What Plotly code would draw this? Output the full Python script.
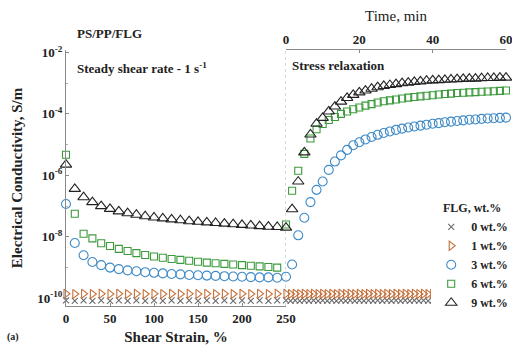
import plotly.graph_objects as go

# ---------------- data (log10 of conductivity, S/m) ----------------
strain = [0, 10, 20, 30, 40, 50, 60, 70, 80, 90, 100, 110, 120, 130, 140, 150,
          160, 170, 180, 190, 200, 210, 220, 230, 240]
time_min = [0, 1.667, 3.333, 5, 6.667, 8.333, 10, 11.667, 13.333, 15, 16.667, 18.333,
            20, 21.667, 23.333, 25, 26.667, 28.333, 30, 31.667, 33.333, 35, 36.667,
            38.333, 40, 41.667, 43.333, 45, 46.667, 48.333, 50, 51.667, 53.333, 55,
            56.667, 58.333, 60]
time_low = [0, 1.25, 2.5, 3.75, 5, 6.25, 7.5, 8.75, 10, 11.25, 12.5, 13.75, 15, 16.25,
            17.5, 18.75, 20, 21.25, 22.5, 23.75, 25, 26.25, 27.5, 28.75, 30, 31.25,
            32.5, 33.75, 35, 36.25, 37.5, 38.75, 40, 41.25, 42.5, 43.75, 45, 46.25,
            47.5, 48.75, 50, 51.25, 52.5, 53.75, 55, 56.25, 57.5, 58.75, 60]

shear_0 = [-10.07, -10.08, -10.07, -10.08, -10.07, -10.08, -10.07, -10.08, -10.07, -10.08,
           -10.07, -10.08, -10.07, -10.08, -10.07, -10.08, -10.07, -10.08, -10.07, -10.08,
           -10.07, -10.08, -10.07, -10.08, -10.07]
shear_1 = [-9.85, -9.86, -9.85, -9.86, -9.85, -9.86, -9.85, -9.86, -9.85, -9.86,
           -9.85, -9.86, -9.85, -9.86, -9.85, -9.86, -9.85, -9.86, -9.85, -9.86,
           -9.85, -9.86, -9.85, -9.86, -9.85]
shear_3 = [-6.93, -8.20, -8.60, -8.82, -8.92, -9.00, -9.05, -9.09, -9.12, -9.15, -9.17,
           -9.19, -9.21, -9.22, -9.24, -9.25, -9.26, -9.27, -9.28, -9.29, -9.30, -9.31,
           -9.32, -9.32, -9.33]
shear_6 = [-5.33, -7.25, -7.90, -8.05, -8.21, -8.30, -8.39, -8.46, -8.53, -8.59, -8.64,
           -8.68, -8.72, -8.75, -8.78, -8.81, -8.84, -8.86, -8.88, -8.90, -8.92, -8.94,
           -8.96, -8.98, -9.00]
shear_9 = [-5.65, -6.44, -6.71, -6.87, -7.00, -7.09, -7.17, -7.23, -7.28, -7.33, -7.37,
           -7.40, -7.43, -7.46, -7.49, -7.51, -7.53, -7.55, -7.57, -7.59, -7.61, -7.63,
           -7.65, -7.67, -7.68]

relax_0 = [-10.07, -10.08, -10.07, -10.08, -10.07, -10.08, -10.07, -10.08, -10.07, -10.08,
           -10.07, -10.08, -10.07, -10.08, -10.07, -10.08, -10.07, -10.08, -10.07, -10.08,
           -10.07, -10.08, -10.07, -10.08, -10.07, -10.08, -10.07, -10.08, -10.07, -10.08,
           -10.07, -10.08, -10.07, -10.08, -10.07, -10.08, -10.07, -10.08, -10.07, -10.08,
           -10.07, -10.08, -10.07, -10.08, -10.07, -10.08, -10.07, -10.08, -10.07]
relax_1 = [-9.85, -9.86, -9.85, -9.86, -9.85, -9.86, -9.85, -9.86, -9.85, -9.86,
           -9.85, -9.86, -9.85, -9.86, -9.85, -9.86, -9.85, -9.86, -9.85, -9.86,
           -9.85, -9.86, -9.85, -9.86, -9.85, -9.86, -9.85, -9.86, -9.85, -9.86,
           -9.85, -9.86, -9.85, -9.86, -9.85, -9.86, -9.85, -9.86, -9.85, -9.86,
           -9.85, -9.86, -9.85, -9.86, -9.85, -9.86, -9.85, -9.86, -9.85]
relax_3 = [-9.30, -8.90, -7.95, -7.38, -6.87, -6.47, -6.20, -5.82, -5.55, -5.35, -5.17,
           -5.02, -4.92, -4.83, -4.75, -4.68, -4.62, -4.57, -4.52, -4.48, -4.44, -4.41,
           -4.38, -4.35, -4.32, -4.30, -4.27, -4.25, -4.23, -4.21, -4.19, -4.18, -4.16,
           -4.15, -4.14, -4.13, -4.12]
relax_6 = [-7.60, -6.50, -5.85, -5.30, -4.80, -4.50, -4.33, -4.20, -4.10, -4.00, -3.92,
           -3.85, -3.79, -3.73, -3.68, -3.63, -3.59, -3.56, -3.53, -3.50, -3.47, -3.45,
           -3.43, -3.41, -3.39, -3.37, -3.35, -3.34, -3.32, -3.31, -3.30, -3.29, -3.28,
           -3.27, -3.26, -3.25, -3.24]
relax_9 = [-7.70, -7.10, -6.20, -5.25, -4.67, -4.32, -4.13, -3.92, -3.76, -3.60, -3.48,
           -3.38, -3.30, -3.24, -3.18, -3.13, -3.09, -3.06, -3.03, -3.00, -2.98, -2.96,
           -2.94, -2.92, -2.91, -2.90, -2.89, -2.88, -2.87, -2.86, -2.85, -2.85, -2.84,
           -2.83, -2.83, -2.82, -2.82]

labels = ["0 wt.%", "1 wt.%", "3 wt.%", "6 wt.%", "9 wt.%"]
y_tickvals = [1e-10, 1e-8, 1e-6, 1e-4, 1e-2]
y_ticktext = ["10<sup>-10</sup>", "10<sup>-8</sup>", "10<sup>-6</sup>",
              "10<sup>-4</sup>", "10<sup>-2</sup>"]
strain_ticks = [0, 50, 100, 150, 200, 250]
time_ticks = [0, 20, 40, 60]

# ---------------- styles ----------------
FONT = "Liberation Serif"
styles = [
    dict(symbol="x-thin-open", size=6, color="#6b6b6b"),
    dict(symbol="triangle-right-open", size=8, color="#c4703a"),
    dict(symbol="circle-open", size=9, color="#3f8ac6"),
    dict(symbol="square-open", size=7, color="#3c9a3c"),
    dict(symbol="triangle-up-open", size=10, color="#222222"),
]

shear_sets = [shear_0, shear_1, shear_3, shear_6, shear_9]
relax_sets = [(time_low, relax_0), (time_low, relax_1), (time_min, relax_3),
              (time_min, relax_6), (time_min, relax_9)]

fig = go.Figure()
for i, lab in enumerate(labels):
    st = styles[i]
    mk = dict(symbol=st["symbol"], size=st["size"], color=st["color"],
              line=dict(color=st["color"], width=1.1))
    fig.add_trace(go.Scatter(x=strain, y=[10 ** v for v in shear_sets[i]], mode="markers",
                             marker=mk, name=lab, legendgroup=lab, showlegend=True,
                             cliponaxis=False, xaxis="x", yaxis="y"))
    tx, ty = relax_sets[i]
    fig.add_trace(go.Scatter(x=tx, y=[10 ** v for v in ty], mode="markers",
                             marker=mk, name=lab, legendgroup=lab, showlegend=False,
                             cliponaxis=False, xaxis="x2", yaxis="y"))

tickf = dict(family=FONT, size=13, color="#222", weight="bold")
axcol = "#8a8a8a"

fig.update_layout(
    width=512, height=345,
    margin=dict(l=66, r=6, t=50, b=39, autoexpand=False),
    paper_bgcolor="white", plot_bgcolor="white",
    font=dict(family=FONT, size=13, color="#222", weight="bold"),
    xaxis=dict(domain=[0, 0.5], range=[0, 250], tickmode="array", tickvals=strain_ticks,
               ticks="inside", ticklen=3, tickcolor=axcol, showline=True, linecolor=axcol,
               showgrid=False, zeroline=False, tickfont=tickf, anchor="y", automargin=False,
               ticklabeloverflow="allow",
               title=dict(text="Shear Strain, %", font=dict(family=FONT, size=15, weight="bold"),
                          standoff=8)),
    xaxis2=dict(domain=[0.5, 1], range=[0, 60], tickmode="array", tickvals=time_ticks,
                side="top", anchor="y", ticks="inside", ticklen=3, tickcolor=axcol,
                showline=True, linecolor=axcol, showgrid=False, zeroline=False,
                automargin=False, ticklabeloverflow="allow",
                tickfont=dict(family=FONT, size=13, color="#222"),
                title=dict(text="Time, min", font=dict(family=FONT, size=15, weight="normal"),
                           standoff=6)),
    xaxis3=dict(domain=[0.5, 1], range=[0, 60], tickmode="array", tickvals=[20, 40, 60],
                ticktext=["", "", ""], anchor="y", ticks="inside", ticklen=3, tickcolor=axcol,
                showline=True, linecolor=axcol, showgrid=False, zeroline=False,
                automargin=False),
    yaxis=dict(type="log", range=[-10.25, -1.92], tickmode="array", tickvals=y_tickvals,
               ticktext=y_ticktext, ticks="inside", ticklen=3, tickcolor=axcol,
               showline=True, linecolor=axcol, showgrid=False, zeroline=False,
               tickfont=tickf, automargin=False,
               minor=dict(ticks="inside", ticklen=2, tickcolor="#b0b0b0",
                          tickvals=[1e-9, 1e-7, 1e-5, 1e-3])),
    legend=dict(x=0.83, y=0.427, xanchor="left", yanchor="top", bgcolor="white",
                font=dict(family=FONT, size=12, color="#222", weight="bold"),
                title=dict(text="FLG, wt.%", side="top center",
                           font=dict(family=FONT, size=12, weight="bold")),
                itemwidth=30, tracegroupgap=0),
    shapes=[dict(type="line", xref="x", yref="y domain", x0=250, x1=250, y0=0, y1=1,
                 line=dict(color="#b5b5b5", width=1, dash="dot"))],
    annotations=[
        dict(text="Electrical Conductivity, S/m", xref="paper", yref="paper",
             x=-0.111, y=0.5, textangle=-90, xanchor="center", yanchor="middle",
             showarrow=False, font=dict(family=FONT, size=15, weight="bold")),
        dict(text="PS/PP/FLG", xref="paper", yref="paper", x=0.02, y=1.066,
             xanchor="left", yanchor="middle", showarrow=False,
             font=dict(family=FONT, size=13, weight="bold")),
        dict(text="Steady shear rate - 1 s<sup>-1</sup>", xref="paper", yref="paper",
             x=0.02, y=0.93, xanchor="left", yanchor="middle", showarrow=False,
             font=dict(family=FONT, size=13, weight="bold")),
        dict(text="Stress relaxation", xref="paper", yref="paper", x=0.509, y=0.941,
             xanchor="left", yanchor="middle", showarrow=False,
             font=dict(family=FONT, size=13, weight="bold")),
        dict(text="(a)", xref="paper", yref="paper", x=-0.12, y=-0.121,
             xanchor="center", yanchor="middle", showarrow=False,
             font=dict(family=FONT, size=10, weight="bold")),
    ],
)

fig.write_html("out.html", config={"displayModeBar": False},
               post_script="document.body.style.margin='0';document.body.style.overflow='hidden';")
